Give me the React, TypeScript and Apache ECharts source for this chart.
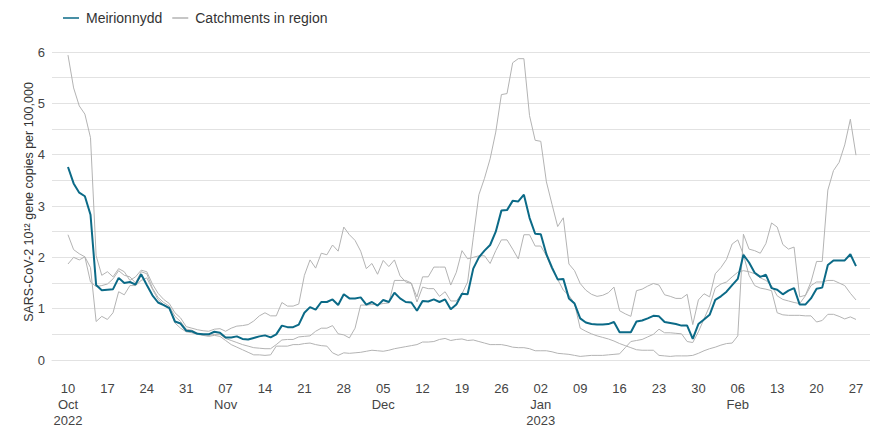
import React, { useEffect, useRef } from 'react';
import * as echarts from 'echarts';

// day index 0 = 10 Oct 2022, one value per day up to 27 Feb 2023 (index 140)
const tickDays = [0, 7, 14, 21, 28, 35, 42, 49, 56, 63, 70, 77, 84, 91, 98, 105, 112, 119, 126, 133, 140];
const tickLabels = [
  '10\nOct\n2022', '17', '24', '31', '07\nNov', '14', '21', '28', '05\nDec', '12', '19', '26',
  '02\nJan\n2023', '09', '16', '23', '30', '06\nFeb', '13', '20', '27',
];

const meirionnydd = [
  3.76, 3.44, 3.26, 3.19, 2.83, 1.46, 1.36, 1.37, 1.38, 1.60,
  1.50, 1.52, 1.47, 1.67, 1.46, 1.26, 1.12, 1.07, 1.01, 0.75,
  0.71, 0.57, 0.56, 0.51, 0.50, 0.50, 0.55, 0.53, 0.44, 0.44,
  0.46, 0.41, 0.40, 0.43, 0.46, 0.48, 0.44, 0.50, 0.67, 0.64,
  0.64, 0.69, 0.92, 1.03, 0.98, 1.13, 1.13, 1.18, 1.07, 1.28,
  1.20, 1.20, 1.22, 1.08, 1.13, 1.06, 1.17, 1.13, 1.31, 1.20,
  1.13, 1.12, 0.96, 1.15, 1.14, 1.18, 1.13, 1.18, 0.99, 1.08,
  1.29, 1.28, 1.78, 2.00, 2.13, 2.24, 2.50, 2.91, 2.92, 3.10,
  3.09, 3.22, 2.77, 2.46, 2.45, 2.06, 1.80, 1.57, 1.58, 1.20,
  1.10, 0.81, 0.73, 0.70, 0.69, 0.69, 0.70, 0.74, 0.54, 0.54,
  0.54, 0.75, 0.77, 0.81, 0.86, 0.85, 0.74, 0.72, 0.70, 0.67,
  0.67, 0.41, 0.70, 0.79, 0.88, 1.17, 1.24, 1.33, 1.46, 1.58,
  2.05, 1.90, 1.70, 1.62, 1.66, 1.40, 1.37, 1.28, 1.35, 1.40,
  1.08, 1.08, 1.20, 1.39, 1.41, 1.85, 1.94, 1.94, 1.94, 2.06, 1.83,
];

const catchmentA = [
  5.94, 5.30, 4.95, 4.79, 4.33, 2.03, 1.65, 1.72, 1.62, 1.78,
  1.72, 1.55, 1.62, 1.75, 1.72, 1.48, 1.30, 1.18, 1.10, 0.92,
  0.82, 0.65, 0.62, 0.59, 0.57, 0.56, 0.60, 0.61, 0.56, 0.62,
  0.66, 0.67, 0.69, 0.76, 0.86, 0.92, 0.86, 0.86, 1.12, 1.05,
  1.05, 1.09, 1.65, 1.95, 1.79, 2.08, 2.05, 2.24, 2.12, 2.59,
  2.44, 2.33, 2.12, 1.78, 1.88, 1.67, 1.94, 1.82, 1.95, 1.64,
  1.52, 1.49, 1.23, 1.62, 1.62, 1.81, 1.81, 1.81, 1.46, 1.71,
  2.13, 1.97, 2.00, 2.03, 2.03, 1.88, 2.13, 2.34, 2.34, 2.16,
  1.97, 2.44, 2.44, 2.22, 2.22, 2.03, 1.76, 1.57, 1.36, 1.26,
  1.10, 0.62, 0.56, 0.51, 0.47, 0.44, 0.41, 0.37, 0.32, 0.28,
  0.24, 0.20, 0.19, 0.19, 0.19, 0.09, 0.08, 0.07, 0.08, 0.08,
  0.08, 0.09, 0.13, 0.18, 0.22, 0.25, 0.29, 0.32, 0.33, 0.47,
  2.45, 2.16, 2.13, 2.08, 2.27, 2.67, 2.59, 2.25, 2.16, 2.20,
  1.23, 1.26, 1.52, 1.92, 1.92, 3.31, 3.69, 3.85, 4.19, 4.69, 3.99,
];

const catchmentB = [
  2.44, 2.15, 2.07, 2.01, 1.52, 1.43, 1.45, 1.48, 1.58, 1.74,
  1.65, 1.62, 1.50, 1.72, 1.68, 1.40, 1.22, 1.12, 1.05, 0.85,
  0.75, 0.60, 0.58, 0.52, 0.50, 0.48, 0.50, 0.50, 0.42, 0.38,
  0.34, 0.30, 0.27, 0.24, 0.23, 0.22, 0.22, 0.30, 0.39, 0.40,
  0.40, 0.45, 0.46, 0.47, 0.56, 0.62, 0.62, 0.67, 0.51, 0.49,
  0.43, 0.62, 1.07, 1.07, 1.08, 1.08, 1.10, 1.11, 1.55, 1.55,
  1.55, 1.50, 1.13, 1.42, 1.39, 1.39, 1.24, 1.33, 1.15, 1.15,
  1.29, 1.52, 2.38, 3.22, 3.54, 3.92, 4.44, 5.17, 5.19, 5.79,
  5.87, 5.87, 4.76, 4.28, 4.26, 3.47, 3.03, 2.60, 2.77, 1.87,
  1.74, 1.49, 1.36, 1.28, 1.24, 1.26, 1.31, 1.42, 0.96, 0.90,
  0.85, 1.35, 1.38, 1.44, 1.49, 1.46, 1.27, 1.24, 1.20, 1.20,
  1.28, 0.69, 1.17, 1.29, 1.23, 1.68, 1.80, 1.96, 2.26, 2.34,
  2.05, 1.65, 1.45, 1.40, 1.38, 1.35, 0.92, 0.88, 0.87, 0.87,
  0.87, 0.86, 0.86, 0.74, 0.77, 0.89, 0.89, 0.85, 0.80, 0.84, 0.79,
];

const catchmentC = [
  1.87, 2.00, 1.95, 2.01, 1.80, 0.75, 0.85, 0.79, 0.92, 1.33,
  1.27, 1.45, 1.45, 1.55, 1.60, 1.38, 1.18, 1.08, 1.02, 0.72,
  0.62, 0.55, 0.53, 0.50, 0.48, 0.46, 0.48, 0.46, 0.38, 0.30,
  0.25, 0.20, 0.15, 0.10, 0.10, 0.09, 0.10, 0.27, 0.27, 0.27,
  0.30, 0.30, 0.32, 0.33, 0.30, 0.28, 0.27, 0.14, 0.09, 0.14,
  0.13, 0.14, 0.15, 0.17, 0.19, 0.18, 0.17, 0.19, 0.22, 0.24,
  0.26, 0.28, 0.30, 0.35, 0.35, 0.36, 0.40, 0.42, 0.38, 0.40,
  0.41, 0.38, 0.39, 0.36, 0.33, 0.30, 0.30, 0.30, 0.28, 0.25,
  0.24, 0.24, 0.22, 0.18, 0.18, 0.18, 0.16, 0.13, 0.12, 0.11,
  0.09, 0.07, 0.08, 0.09, 0.09, 0.09, 0.10, 0.11, 0.12, 0.24,
  0.36, 0.38, 0.40, 0.45, 0.50, 0.60, 0.53, 0.53, 0.52, 0.51,
  0.36, 0.34, 0.55, 0.80, 1.05, 1.40, 1.48, 1.52, 1.62, 1.71,
  1.74, 1.72, 1.68, 1.60, 1.55, 1.45, 1.25, 1.18, 1.15, 1.12,
  1.10, 1.25, 1.45, 1.52, 1.52, 1.55, 1.55, 1.50, 1.45, 1.30, 1.17,
];

const FONT = '"Liberation Sans", Arial, Helvetica, sans-serif';
const MAIN_COLOR = '#0b6a87';
const GREY = '#b3b3b3';

const toPairs = (vals: number[]) => vals.map((v, i) => [i, v]);

export default function App() {
  const ref = useRef<HTMLDivElement>(null);
  useEffect(() => {
    if (!ref.current) return;
    const chart = echarts.init(ref.current, null, { renderer: 'svg' });
    const greySeries = [catchmentA, catchmentB, catchmentC].map((vals) => ({
      name: 'Catchments in region',
      type: 'line',
      data: toPairs(vals),
      showSymbol: false,
      symbol: 'none',
      lineStyle: { color: GREY, width: 1 },
      itemStyle: { color: GREY },
      z: 2,
    }));
    chart.setOption({
      animation: false,
      textStyle: { fontFamily: FONT },
      legend: {
        left: 58,
        top: 6,
        icon: 'rect',
        itemWidth: 16,
        itemHeight: 1.5,
        itemGap: 10,
        textStyle: { fontSize: 14, color: '#333', fontFamily: FONT, padding: [0, 0, 0, 2] },
        data: [
          { name: 'Meirionnydd', itemStyle: { color: MAIN_COLOR } },
          { name: 'Catchments in region', itemStyle: { color: GREY } },
        ],
      },
      grid: { left: 52, right: 0, top: 52, bottom: 64, containLabel: false },
      xAxis: {
        type: 'value',
        min: -2.842,
        max: 142.49,
        offset: 15,
        splitLine: { show: false },
        axisLine: { show: true, lineStyle: { color: '#e2e2e2', width: 1 } },
        axisTick: { show: false },
        axisLabel: {
          customValues: tickDays,
          formatter: (v: number) => {
            const i = tickDays.indexOf(Math.round(v));
            return i >= 0 ? tickLabels[i] : '';
          },
          fontSize: 13,
          lineHeight: 16,
          color: '#444',
          fontFamily: FONT,
          margin: 5,
        },
      },
      yAxis: {
        type: 'value',
        min: 0,
        max: 6,
        interval: 0.5,
        name: 'SARS-CoV-2 10¹² gene copies per 100,000',
        nameLocation: 'middle',
        nameGap: 17,
        nameMoveOverlap: false,
        nameTextStyle: { fontSize: 12.5, color: '#333', fontFamily: FONT, padding: [0, 0, 0, 8] },
        axisLine: { show: false },
        axisTick: { show: false },
        splitLine: { lineStyle: { color: '#e2e2e2', width: 1 } },
        axisLabel: {
          formatter: (v: number) => (Number.isInteger(v) ? String(v) : ''),
          fontSize: 13,
          color: '#444',
          fontFamily: FONT,
          margin: 7,
        },
      },
      series: [
        ...greySeries,
        {
          name: 'Meirionnydd',
          type: 'line',
          data: toPairs(meirionnydd),
          showSymbol: false,
          symbol: 'none',
          lineStyle: { color: MAIN_COLOR, width: 2 },
          itemStyle: { color: MAIN_COLOR },
          z: 5,
        },
      ],
    });
    return () => chart.dispose();
  }, []);
  return (
    <div
      ref={ref}
      style={{ position: 'fixed', left: 0, top: 0, width: 870, height: 428, background: '#fff' }}
    />
  );
}
